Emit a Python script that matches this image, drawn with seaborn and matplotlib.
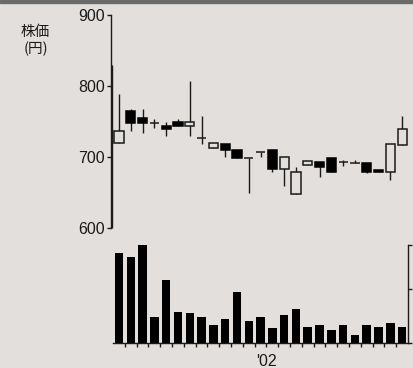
import numpy as np
import pandas as pd
import matplotlib
matplotlib.use("Agg")
import matplotlib.pyplot as plt
import seaborn as sns

# ---- data ----
opens  = [720, 766, 755, 749, 745, 750, 744, 728, 714, 719, 710, 699, 708,
          710, 684, 649, 689, 694, 699, 693, 692, 692, 682, 679, 718]
closes = [737, 749, 749, 749, 740, 745, 750, 728, 720, 710, 699, 699, 708,
          684, 700, 680, 695, 686, 680, 693, 692, 680, 679, 719, 740]
highs  = [790, 769, 769, 754, 750, 754, 808, 759, 720, 719, 710, 699, 708,
          710, 700, 686, 695, 694, 699, 697, 697, 692, 682, 719, 758]
lows   = [720, 738, 735, 742, 730, 745, 730, 719, 714, 700, 699, 650, 701,
          680, 660, 649, 689, 673, 680, 688, 692, 678, 679, 668, 718]
volume = [168, 159, 182, 47, 117, 58, 55, 47, 33, 44, 94, 40, 47, 27, 52,
          62, 29, 33, 24, 33, 14, 33, 29, 36, 29]
prev_high, prev_low = 830, 600          # wick of the preceding (cut-off) candle
price_ticks = [600, 700, 800, 900]
volume_ticks = [0, 100, 182]
ylabel_text = "株価\n(円)"
year_label = "'02"

BG = "#e3dfdc"
INK = "#1a1a1a"

sns.set_style("white")
plt.rcParams["font.family"] = ["Liberation Sans", "Noto Sans CJK JP", "DejaVu Sans"]

fig = plt.figure(figsize=(4.13, 3.68), dpi=100)
fig.patch.set_facecolor(BG)

n = len(opens)
idx = np.arange(n)
df = pd.DataFrame({"i": idx, "open": opens, "close": closes,
                   "high": highs, "low": lows, "volume": volume})

# ---- price panel ----
W, H = 413, 368
axp = fig.add_axes([110.7 / W, 1 - 228.5 / H, (408 - 110.7) / W, (228.5 - 15.5) / H])
axp.set_facecolor("none")
axp.set_xlim(-0.7, n - 0.5)
axp.set_ylim(600, 900)

# wicks
axp.vlines(df["i"], df["low"], df["high"], color=INK, linewidth=1.0, zorder=2)
axp.vlines([axp.get_xlim()[0] + 0.15], prev_low, prev_high, color=INK,
           linewidth=1.0, zorder=2, clip_on=False)
# bodies
bw = 0.78
up = df["close"] >= df["open"]
bottoms = np.minimum(df["open"], df["close"])
heights = np.abs(df["close"] - df["open"])
axp.bar(df["i"][up], heights[up], bottom=bottoms[up], width=bw,
        facecolor=BG, edgecolor=INK, linewidth=1.1, zorder=3)
axp.bar(df["i"][~up], heights[~up], bottom=bottoms[~up], width=bw,
        facecolor="black", edgecolor="black", linewidth=1.1, zorder=3)

for s in ["top", "right", "bottom"]:
    axp.spines[s].set_visible(False)
axp.spines["left"].set_color(INK)
axp.spines["left"].set_linewidth(1.0)
axp.set_yticks(price_ticks)
axp.set_yticklabels([str(t) for t in price_ticks])
axp.tick_params(axis="y", direction="out", length=3, width=1.0, pad=1,
                labelsize=11.5, colors=INK, left=True)
axp.set_xticks([])
axp.set_xlabel("")
axp.set_ylabel("")

fig.text(35.5 / W, 1 - 40.5 / H, ylabel_text, ha="center", va="center",
         fontsize=10.5, linespacing=1.2, color=INK,
         family=["Noto Sans CJK JP", "DejaVu Sans"])

# ---- volume panel ----
axv = fig.add_axes([113.1 / W, 1 - 342.7 / H, (408 - 113.1) / W, (342.7 - 245) / H])
axv.set_facecolor("none")
sns.barplot(data=df, x="i", y="volume", native_scale=True, color="black",
            width=0.72, saturation=1, ax=axv, edgecolor="none")
axv.set_xlim(-0.5, n - 0.5)
axv.set_ylim(0, max(volume_ticks))
axv.spines["top"].set_visible(False)
axv.spines["left"].set_visible(False)
for s in ["bottom", "right"]:
    axv.spines[s].set_color(INK)
    axv.spines[s].set_linewidth(1.0)
axv.yaxis.tick_right()
axv.set_yticks(volume_ticks)
axv.set_yticklabels([])
axv.tick_params(axis="y", direction="out", length=3, width=1.0, colors=INK,
                left=False, right=True)
axv.set_xticks([-0.5])
axv.set_xticklabels([])
axv.set_xticks(np.arange(0.5, n - 0.5, 1.0), minor=True)
axv.tick_params(axis="x", which="major", direction="out", length=5, width=1.0,
                colors=INK)
axv.tick_params(axis="x", which="minor", direction="out", length=3, width=1.0,
                colors=INK, bottom=True)
axv.set_xlabel("")
axv.set_ylabel("")
axv.text(12.5, -0.12, year_label, transform=axv.get_xaxis_transform(),
         ha="center", va="top", fontsize=11.5, color=INK)

# top dark band
fig.add_artist(plt.Rectangle((0, 1 - 3 / H), 1, 3 / H, transform=fig.transFigure,
                             color="#6a6a6a", zorder=10))

fig.savefig("out.png", dpi=100, facecolor=BG)
